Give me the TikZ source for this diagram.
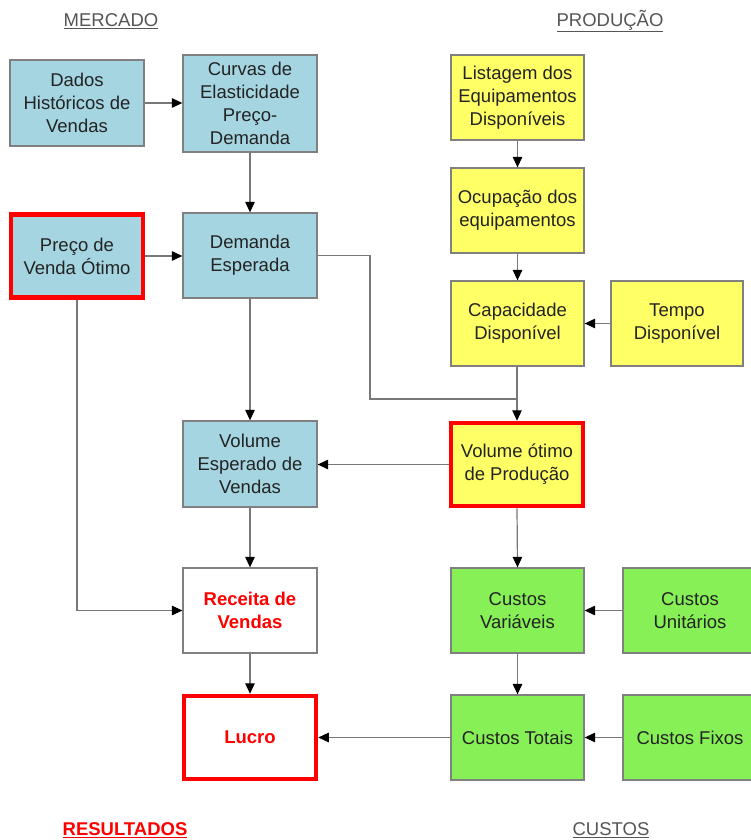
\documentclass[tikz,border=0pt]{standalone}
\usepackage{fontspec}
\setmainfont{Liberation Sans}
\usetikzlibrary{arrows.meta}
\definecolor{boxblue}{RGB}{165,213,225}
\definecolor{boxyellow}{RGB}{255,255,102}
\definecolor{boxgreen}{RGB}{134,240,86}
\definecolor{boxgray}{RGB}{128,128,128}
\definecolor{txtgray}{RGB}{35,35,35}
\definecolor{headgray}{RGB}{85,85,85}
\definecolor{linegray}{RGB}{120,120,120}
\begin{document}
\begin{tikzpicture}[x=1pt,y=-1pt,
  box/.style={draw=boxgray, line width=1.3pt, align=center, inner sep=0pt,
    text=txtgray, font=\fontsize{18.5}{23.2}\selectfont,
    minimum width=133pt, minimum height=86pt},
  bluebox/.style={box, fill=boxblue},
  yellowbox/.style={box, fill=boxyellow},
  greenbox/.style={box, fill=boxgreen},
  redframe/.style={draw=red, line width=4.5pt, minimum width=132pt, minimum height=83pt},
  redtext/.style={text=red, font=\fontsize{18.5}{23.2}\selectfont\bfseries},
  header/.style={font=\fontsize{18.5}{22}\selectfont, text=headgray, inner sep=0pt},
  conn/.style={draw=linegray, line width=1.2pt},
  arr/.style={conn, -{Triangle[length=10.5pt,width=9.5pt,color=black]}}
]
\useasboundingbox (0,0) rectangle (750,840);
\fill[white] (0,0) rectangle (750,840);

% headers
\node[header] (hmerc) at (111,21) {\underline{MERCADO}};
\node[header] (hprod) at (610,21) {\underline{PRODUÇÃO}};
\node[header, text=red, font=\fontsize{18.5}{22}\selectfont\bfseries] (hres) at (125,830) {\underline{RESULTADOS}};
\node[header] (hcust) at (611,830) {\underline{CUSTOS}};

% mercado column
\node[bluebox, minimum width=134pt] (dados) at (77,103) {Dados\\Históricos de\\Vendas};
\node[bluebox, minimum width=134pt, minimum height=97pt] (curvas) at (250,103.5) {Curvas de\\Elasticidade\\Preço-\\Demanda};
\node[bluebox, redframe] (preco) at (77,256) {Preço de\\Venda Ótimo};
\node[bluebox, minimum width=134pt, minimum height=85pt] (demanda) at (250,255.5) {Demanda\\Esperada};
\node[bluebox, minimum width=134pt] (volesp) at (250,464) {Volume\\Esperado de\\Vendas};
\node[box, fill=white, minimum width=134pt, minimum height=85pt, redtext] (receita) at (250,610.5) {Receita de\\Vendas};
\node[box, fill=white, redframe, redtext] (lucro) at (250,737.5) {Lucro};

% producao column
\node[yellowbox, minimum height=85pt] (listagem) at (517.5,97.5) {Listagem dos\\Equipamentos\\Disponíveis};
\node[yellowbox, minimum height=85pt] (ocup) at (517.5,210.5) {Ocupação dos\\equipamentos};
\node[yellowbox, minimum height=85pt] (capac) at (517.5,323.5) {Capacidade\\Disponível};
\node[yellowbox, minimum width=132pt, minimum height=85pt] (tempo) at (677,323.5) {Tempo\\Disponível};
\node[yellowbox, redframe] (volot) at (517,464.5) {Volume ótimo\\de Produção};

% custos column
\node[greenbox, minimum height=85pt] (cvar) at (517.5,610.5) {Custos\\Variáveis};
\node[greenbox, minimum width=134pt, minimum height=85pt] (cuni) at (690,610.5) {Custos\\Unitários};
\node[greenbox, minimum height=85pt] (ctot) at (517.5,737.5) {Custos Totais};
\node[greenbox, minimum width=134pt, minimum height=85pt] (cfix) at (690,737.5) {Custos Fixos};

% connectors
\draw[arr] (dados.east) -- (dados.east -| curvas.west);
\draw[arr] (curvas.south) -- (demanda.north);
\draw[arr] (preco.east) -- (preco.east -| demanda.west);
\draw[arr] (demanda.south) -- (volesp.north);
\draw[arr] (volesp.south) -- (receita.north);
\draw[arr] (receita.south) -- (lucro.north);
\draw[arr] (preco.south) |- (receita.west);

\draw[arr] (listagem.south) -- (ocup.north);
\draw[arr] (ocup.south) -- (capac.north);
\draw[arr] (tempo.west) -- (capac.east);
\draw[arr] (capac.south -| volot.north) -- (volot.north);
\coordinate (bend) at (370,399);
\coordinate (join) at (volot.north |- bend);
\draw[conn] (demanda.east) -| (bend) -- (join);
\draw[arr] (volot.west) -- (volot.west -| volesp.east);

\draw[arr] (volot.south) -- (cvar.north);
\draw[arr] (cuni.west) -- (cvar.east);
\draw[arr] (cvar.south) -- (ctot.north);
\draw[arr] (cfix.west) -- (ctot.east);
\draw[arr] (ctot.west) -- (lucro.east);
\end{tikzpicture}
\end{document}
